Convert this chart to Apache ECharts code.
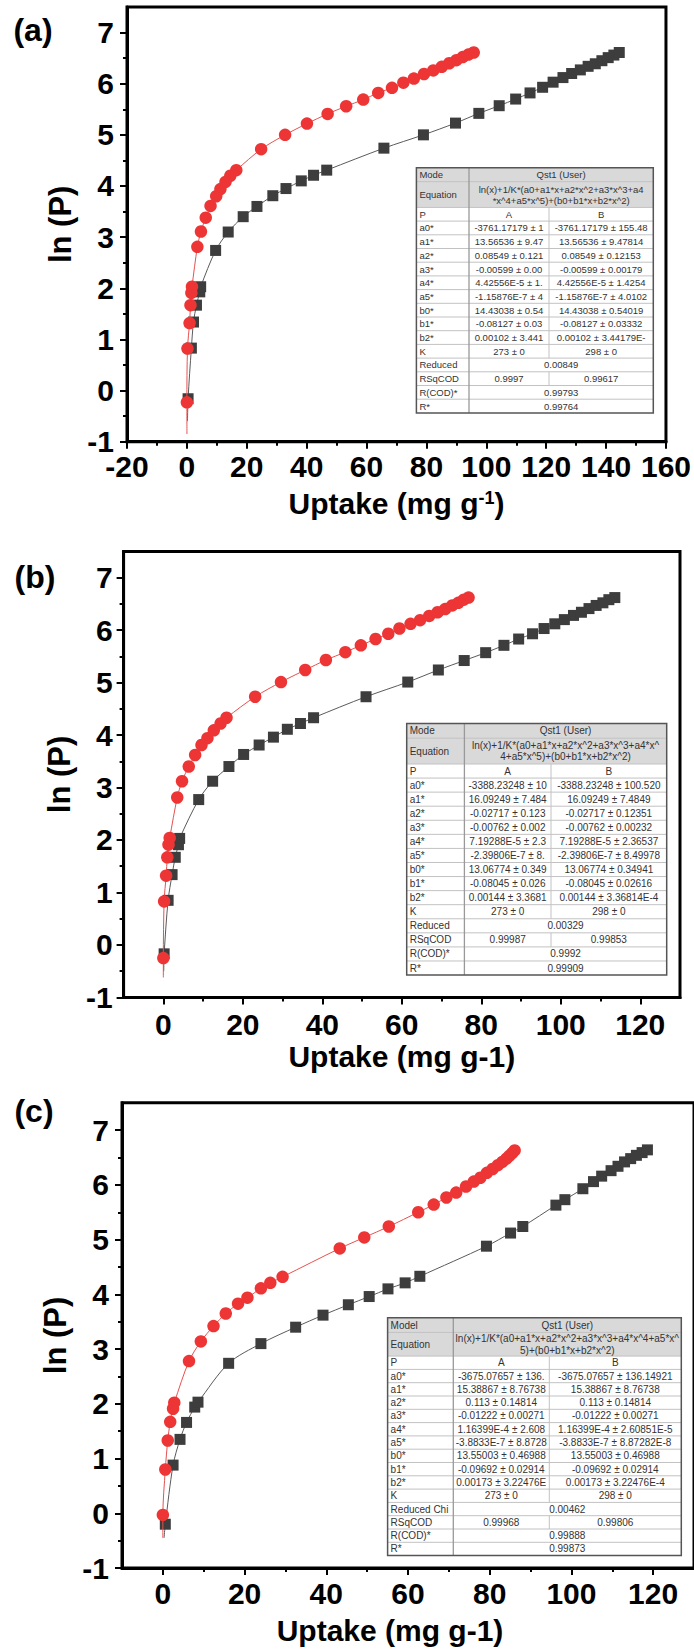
<!DOCTYPE html>
<html>
<head>
<meta charset="utf-8">
<script src="https://cdn.jsdelivr.net/npm/echarts@6/dist/echarts.min.js"></script>
<style>
html,body{margin:0;padding:0;background:#fff;}
#c{width:694px;height:1649px;}
</style>
</head>
<body>
<div id="c"></div>
<script>
// ---------- tick values ----------
const xMajorA = [-20, 0, 20, 40, 60, 80, 100, 120, 140, 160];
const xMinorA = [-10, 10, 30, 50, 70, 90, 110, 130, 150];
const xMajorBC = [0, 20, 40, 60, 80, 100, 120];
const xMinorBC = [10, 30, 50, 70, 90, 110];
const yMajor = [-1, 0, 1, 2, 3, 4, 5, 6, 7];
const yMinor = [-0.5, 0.5, 1.5, 2.5, 3.5, 4.5, 5.5, 6.5];

// ---------- panel (a) ----------
const aRedX = [0.0, 0.2, 0.9, 1.2, 1.5, 1.7, 3.5, 4.7, 6.3, 7.9, 9.8, 11.2, 12.9, 14.5, 16.5, 24.8, 32.8, 40.1, 47.0, 53.2, 58.9, 63.9, 68.5, 72.3, 75.8, 79.2, 82.3, 85.1, 87.6, 90.0, 92.1, 94.0, 95.8];
const aRedY = [-0.23, 0.82, 1.32, 1.67, 1.91, 2.03, 2.81, 3.11, 3.38, 3.61, 3.80, 3.94, 4.08, 4.20, 4.31, 4.72, 5.00, 5.22, 5.41, 5.56, 5.69, 5.82, 5.92, 6.02, 6.10, 6.19, 6.26, 6.33, 6.40, 6.46, 6.52, 6.57, 6.61];
const aBlkX = [0.4, 1.5, 2.2, 3.2, 4.3, 4.6, 9.6, 13.8, 18.8, 23.4, 28.7, 33.1, 38.2, 42.3, 46.7, 65.8, 79.0, 89.7, 97.5, 104.3, 109.8, 114.6, 118.8, 122.3, 125.6, 128.5, 131.4, 134.0, 136.4, 138.6, 140.7, 142.6, 144.4];
const aBlkY = [-0.16, 0.83, 1.34, 1.67, 1.93, 2.03, 2.74, 3.10, 3.40, 3.60, 3.81, 3.95, 4.10, 4.21, 4.31, 4.74, 5.00, 5.23, 5.42, 5.57, 5.70, 5.82, 5.93, 6.03, 6.12, 6.20, 6.27, 6.34, 6.39, 6.45, 6.51, 6.56, 6.61];
const aRedFitStart = [0.02, -0.85];
const aBlkFitStart = [0.2, -0.6];

// ---------- panel (b) ----------
const bRedX = [0.0, 0.2, 0.7, 1.0, 1.3, 1.6, 3.5, 4.7, 6.4, 8.0, 9.6, 11.1, 12.7, 14.4, 15.9, 23.1, 29.6, 35.7, 40.9, 45.8, 49.7, 53.4, 56.6, 59.4, 62.2, 64.6, 66.9, 69.0, 70.9, 72.7, 74.2, 75.6, 76.8];
const bRedY = [-0.25, 0.83, 1.32, 1.67, 1.91, 2.04, 2.81, 3.12, 3.40, 3.62, 3.81, 3.94, 4.09, 4.22, 4.33, 4.73, 5.01, 5.24, 5.43, 5.58, 5.71, 5.83, 5.93, 6.03, 6.12, 6.19, 6.27, 6.34, 6.40, 6.47, 6.52, 6.58, 6.62];
const bBlkX = [0.2, 1.2, 2.2, 3.0, 3.8, 4.1, 8.9, 12.4, 16.5, 20.2, 24.1, 27.7, 31.2, 34.5, 37.8, 51.0, 61.5, 69.2, 75.7, 81.1, 85.7, 89.4, 92.9, 95.8, 98.5, 100.9, 103.2, 105.2, 107.1, 108.9, 110.6, 112.1, 113.6];
const bBlkY = [-0.17, 0.85, 1.34, 1.67, 1.91, 2.03, 2.77, 3.12, 3.40, 3.63, 3.81, 3.96, 4.11, 4.22, 4.33, 4.73, 5.01, 5.24, 5.42, 5.57, 5.71, 5.83, 5.93, 6.03, 6.12, 6.20, 6.28, 6.34, 6.41, 6.47, 6.52, 6.58, 6.62];
const bRedFitStart = [0.0, -0.62];
const bBlkFitStart = [0.1, -0.5];

// ---------- panel (c) ----------
const cRedX = [0.0, 0.6, 1.2, 1.8, 2.5, 2.8, 6.4, 9.3, 12.4, 15.4, 18.4, 20.7, 24.0, 26.3, 29.3, 43.3, 49.3, 55.3, 62.5, 66.3, 69.4, 71.8, 74.2, 76.1, 77.7, 79.3, 80.7, 82.0, 83.1, 84.1, 84.8, 85.5, 86.1];
const cRedY = [-0.03, 0.80, 1.33, 1.67, 1.91, 2.02, 2.78, 3.14, 3.42, 3.65, 3.83, 3.94, 4.11, 4.21, 4.32, 4.84, 5.04, 5.24, 5.50, 5.64, 5.77, 5.86, 5.97, 6.06, 6.13, 6.22, 6.29, 6.36, 6.42, 6.48, 6.53, 6.58, 6.63];
const cBlkX = [0.6, 2.5, 4.2, 5.8, 7.8, 8.6, 16.1, 24.0, 32.5, 39.2, 45.4, 50.5, 55.1, 59.3, 62.9, 79.2, 85.1, 88.1, 96.2, 98.4, 102.8, 105.4, 107.4, 109.7, 111.4, 113.0, 114.5, 115.9, 117.3, 118.6];
const cBlkY = [-0.20, 0.88, 1.35, 1.66, 1.94, 2.03, 2.74, 3.10, 3.40, 3.62, 3.81, 3.96, 4.10, 4.21, 4.33, 4.88, 5.12, 5.24, 5.63, 5.73, 5.93, 6.06, 6.16, 6.26, 6.34, 6.42, 6.48, 6.54, 6.59, 6.64];
const cRedFitStart = [0.0, -0.45];
const cBlkFitStart = [0.3, -0.45];

// ---------- fit tables ----------
const tableARows = [
  ['Mode', 'Qst1 (User)'],
  ['Equation', 'ln(x)+1/K*(a0+a1*x+a2*x^2+a3*x^3+a4\n*x^4+a5*x^5)+(b0+b1*x+b2*x^2)'],
  ['P', 'A', 'B'],
  ['a0*', '-3761.17179 ± 1', '-3761.17179 ± 155.48'],
  ['a1*', '13.56536 ± 9.47', '13.56536 ± 9.47814'],
  ['a2*', '0.08549 ± 0.121', '0.08549 ± 0.12153'],
  ['a3*', '-0.00599 ± 0.00', '-0.00599 ± 0.00179'],
  ['a4*', '4.42556E-5 ± 1.', '4.42556E-5 ± 1.4254'],
  ['a5*', '-1.15876E-7 ± 4', '-1.15876E-7 ± 4.0102'],
  ['b0*', '14.43038 ± 0.54', '14.43038 ± 0.54019'],
  ['b1*', '-0.08127 ± 0.03', '-0.08127 ± 0.03332'],
  ['b2*', '0.00102 ± 3.441', '0.00102 ± 3.44179E-'],
  ['K', '273 ± 0', '298 ± 0'],
  ['Reduced', '0.00849'],
  ['RSqCOD', '0.9997', '0.99617'],
  ['R(COD)*', '0.99793'],
  ['R*', '0.99764']
];
const tableBRows = [
  ['Mode', 'Qst1 (User)'],
  ['Equation', 'ln(x)+1/K*(a0+a1*x+a2*x^2+a3*x^3+a4*x^\n4+a5*x^5)+(b0+b1*x+b2*x^2)'],
  ['P', 'A', 'B'],
  ['a0*', '-3388.23248 ± 10', '-3388.23248 ± 100.520'],
  ['a1*', '16.09249 ± 7.484', '16.09249 ± 7.4849'],
  ['a2*', '-0.02717 ± 0.123', '-0.02717 ± 0.12351'],
  ['a3*', '-0.00762 ± 0.002', '-0.00762 ± 0.00232'],
  ['a4*', '7.19288E-5 ± 2.3', '7.19288E-5 ± 2.36537'],
  ['a5*', '-2.39806E-7 ± 8.', '-2.39806E-7 ± 8.49978'],
  ['b0*', '13.06774 ± 0.349', '13.06774 ± 0.34941'],
  ['b1*', '-0.08045 ± 0.026', '-0.08045 ± 0.02616'],
  ['b2*', '0.00144 ± 3.3681', '0.00144 ± 3.36814E-4'],
  ['K', '273 ± 0', '298 ± 0'],
  ['Reduced', '0.00329'],
  ['RSqCOD', '0.99987', '0.99853'],
  ['R(COD)*', '0.9992'],
  ['R*', '0.99909']
];
const tableCRows = [
  ['Model', 'Qst1 (User)'],
  ['Equation', 'ln(x)+1/K*(a0+a1*x+a2*x^2+a3*x^3+a4*x^4+a5*x^\n5)+(b0+b1*x+b2*x^2)'],
  ['P', 'A', 'B'],
  ['a0*', '-3675.07657 ± 136.', '-3675.07657 ± 136.14921'],
  ['a1*', '15.38867 ± 8.76738', '15.38867 ± 8.76738'],
  ['a2*', '0.113 ± 0.14814', '0.113 ± 0.14814'],
  ['a3*', '-0.01222 ± 0.00271', '-0.01222 ± 0.00271'],
  ['a4*', '1.16399E-4 ± 2.608', '1.16399E-4 ± 2.60851E-5'],
  ['a5*', '-3.8833E-7 ± 8.8728', '-3.8833E-7 ± 8.87282E-8'],
  ['b0*', '13.55003 ± 0.46988', '13.55003 ± 0.46988'],
  ['b1*', '-0.09692 ± 0.02914', '-0.09692 ± 0.02914'],
  ['b2*', '0.00173 ± 3.22476E', '0.00173 ± 3.22476E-4'],
  ['K', '273 ± 0', '298 ± 0'],
  ['Reduced Chi', '0.00462'],
  ['RSqCOD', '0.99968', '0.99806'],
  ['R(COD)*', '0.99888'],
  ['R*', '0.99873']
];

// ---------- build ----------
const FONT = '"Liberation Sans", Arial, Helvetica, sans-serif';
const pairs = (xs, ys) => xs.map((x, k) => [x, ys[k]]);

function rowHeights(h0, h1, h, n) {
  const r = [h0, h1];
  for (let i = 0; i < n; i++) r.push(h);
  return r;
}

const panels = [
  {
    grid: {left: 127, top: 7, width: 544, height: 434.7},
    xMin: -20, xMax: 160, xMajor: xMajorA, xMinor: xMinorA,
    xLabelMargin: 10, yLabelMargin: 13, xNameGap: 47, yNameGap: 41, xNamePad: [0, 0, 0, 0],
    xName: '{m|Uptake (mg g}{s|-1}{m|)}',
    red: pairs(aRedX, aRedY), blk: pairs(aBlkX, aBlkY), redStart: aRedFitStart, blkStart: aBlkFitStart,
    label: {text: '(a)', x: 33, y: 30},
    table: {left: 416.4, top: 167.7, colW: [52.6, 80, 104.3], rowH: rowHeights(14, 25.7, 13.7, 15), fs: 9.5, rows: tableARows}
  },
  {
    grid: {left: 123.6, top: 551.4, width: 556.4, height: 446},
    xMin: -10, xMax: 130, xMajor: xMajorBC, xMinor: xMinorBC,
    xLabelMargin: 12, yLabelMargin: 11, xNameGap: 44, yNameGap: 36, xNamePad: [0, 0, 0, 0],
    xName: 'Uptake (mg g-1)',
    red: pairs(bRedX, bRedY), blk: pairs(bBlkX, bBlkY), redStart: bRedFitStart, blkStart: bBlkFitStart,
    label: {text: '(b)', x: 35, y: 577},
    table: {left: 406.7, top: 723.5, colW: [57.7, 86.6, 115.7], rowH: rowHeights(14.7, 25.8, 14.07, 15), fs: 10, rows: tableBRows}
  },
  {
    grid: {left: 122, top: 1102.8, width: 580, height: 465.2},
    xMin: -10, xMax: 130, xMajor: xMajorBC, xMinor: xMinorBC,
    xLabelMargin: 10, yLabelMargin: 13, xNameGap: 47, yNameGap: 45, xNamePad: [0, 36, 0, 0],
    xName: 'Uptake (mg g-1)',
    red: pairs(cRedX, cRedY), blk: pairs(cBlkX, cBlkY), redStart: cRedFitStart, blkStart: cBlkFitStart,
    label: {text: '(c)', x: 34, y: 1111},
    table: {left: 387.6, top: 1317.8, colW: [65.7, 96, 132], rowH: rowHeights(14.6, 23.7, 13.3, 15), fs: 10, rows: tableCRows}
  }
];

const bigText = {color: '#000', fontSize: 30, fontWeight: 'bold', fontFamily: FONT};

function tableGraphic(t) {
  const els = [];
  const x0 = t.left, x1 = x0 + t.colW[0], x2 = x1 + t.colW[1], x3 = x2 + t.colW[2];
  const W = x3 - x0;
  const H = t.rowH.reduce((a, b) => a + b, 0);
  const headH = t.rowH[0] + t.rowH[1];
  const txt = (s, x, y, align) => ({
    type: 'text', z: 103,
    style: {text: s, x: x, y: y, align: align, verticalAlign: 'middle', fontSize: t.fs, fontFamily: FONT, fill: '#333', lineHeight: t.fs + 1.6}
  });
  const ln = (ax, ay, bx, by, c, w) => ({type: 'line', z: 101, shape: {x1: ax, y1: ay, x2: bx, y2: by}, style: {stroke: c, lineWidth: w}});
  els.push({type: 'rect', z: 100, shape: {x: x0, y: t.top, width: W, height: H}, style: {fill: '#fff'}});
  els.push({type: 'rect', z: 100, shape: {x: x0, y: t.top, width: W, height: headH}, style: {fill: '#d9d9d9'}});
  let y = t.top;
  t.rows.forEach((r, i) => {
    const h = t.rowH[i], cy = y + h / 2;
    els.push(txt(r[0], x0 + 3, cy, 'left'));
    if (r.length === 2) {
      els.push(txt(r[1], (x1 + x3) / 2, cy, 'center'));
    } else {
      els.push(txt(r[1], (x1 + x2) / 2, cy, 'center'));
      els.push(txt(r[2], (x2 + x3) / 2, cy, 'center'));
      els.push(ln(x2, y, x2, y + h, '#c2c2c2', 1));
    }
    if (i < t.rows.length - 1) els.push(ln(x0, y + h, x3, y + h, '#c2c2c2', 1));
    y += h;
  });
  els.push(ln(x1, t.top, x1, t.top + H, '#999', 1.3));
  els.push({type: 'rect', z: 104, shape: {x: x0, y: t.top, width: W, height: H}, style: {fill: 'none', stroke: '#555', lineWidth: 1.5}});
  return els;
}

const option = {
  animation: false,
  backgroundColor: '#fff',
  grid: panels.map(p => Object.assign({show: true, borderColor: '#000', borderWidth: 3, backgroundColor: 'rgba(0,0,0,0)'}, p.grid)),
  xAxis: panels.flatMap((p, i) => [
    {
      gridIndex: i, type: 'value', min: p.xMin, max: p.xMax, position: 'bottom',
      axisLine: {show: true, onZero: false, lineStyle: {color: '#000', width: 3}},
      axisTick: {show: true, length: 7, lineStyle: {color: '#000', width: 2}, customValues: p.xMajor},
      axisLabel: Object.assign({show: true, customValues: p.xMajor, margin: p.xLabelMargin}, bigText),
      splitLine: {show: false},
      name: p.xName, nameLocation: 'middle', nameGap: p.xNameGap,
      nameTextStyle: Object.assign({}, bigText, {
        padding: p.xNamePad,
        rich: {
          m: Object.assign({}, bigText),
          s: {color: '#000', fontSize: 18, fontWeight: 'bold', fontFamily: FONT, verticalAlign: 'top'}
        }
      })
    },
    {
      gridIndex: i, type: 'value', min: p.xMin, max: p.xMax, position: 'bottom',
      axisLine: {show: false, onZero: false},
      axisTick: {show: true, length: 4, lineStyle: {color: '#000', width: 2}, customValues: p.xMinor},
      axisLabel: {show: false}, splitLine: {show: false}
    }
  ]),
  yAxis: panels.flatMap((p, i) => [
    {
      gridIndex: i, type: 'value', min: -1, max: 7.5, position: 'left',
      axisLine: {show: true, onZero: false, lineStyle: {color: '#000', width: 3}},
      axisTick: {show: true, length: 7, lineStyle: {color: '#000', width: 2}, customValues: yMajor},
      axisLabel: Object.assign({show: true, customValues: yMajor, margin: p.yLabelMargin}, bigText),
      splitLine: {show: false},
      name: 'ln (P)', nameLocation: 'middle', nameGap: p.yNameGap,
      nameTextStyle: Object.assign({}, bigText, {fontSize: 31})
    },
    {
      gridIndex: i, type: 'value', min: -1, max: 7.5, position: 'left',
      axisLine: {show: false, onZero: false},
      axisTick: {show: true, length: 4, lineStyle: {color: '#000', width: 2}, customValues: yMinor},
      axisLabel: {show: false}, splitLine: {show: false}
    }
  ]),
  series: panels.flatMap((p, i) => [
    {
      type: 'line', xAxisIndex: 2 * i, yAxisIndex: 2 * i, data: [p.blkStart].concat(p.blk),
      showSymbol: false, smooth: 0.3, lineStyle: {color: '#5a5a5a', width: 1}, silent: true, z: 1
    },
    {
      type: 'scatter', xAxisIndex: 2 * i, yAxisIndex: 2 * i, data: p.blk,
      symbol: 'rect', symbolSize: 11, itemStyle: {color: '#3d3d3d', opacity: 1}, z: 2
    },
    {
      type: 'line', xAxisIndex: 2 * i, yAxisIndex: 2 * i, data: [p.redStart].concat(p.red),
      showSymbol: false, smooth: 0.3, lineStyle: {color: '#e5524f', width: 1}, silent: true, z: 3
    },
    {
      type: 'scatter', xAxisIndex: 2 * i, yAxisIndex: 2 * i, data: p.red,
      symbol: 'circle', symbolSize: 12.5, itemStyle: {color: '#ee3535', opacity: 1}, z: 4
    }
  ]),
  graphic: {
    elements: panels.flatMap(p => [
      {type: 'text', z: 110, style: {text: p.label.text, x: p.label.x, y: p.label.y, align: 'center', verticalAlign: 'middle', fontSize: 32, fontWeight: 'bold', fontFamily: FONT, fill: '#000'}}
    ].concat(tableGraphic(p.table)))
  }
};

const chart = echarts.init(document.getElementById('c'), null, {renderer: 'svg', width: 694, height: 1649});
chart.setOption(option);
</script>
</body>
</html>
